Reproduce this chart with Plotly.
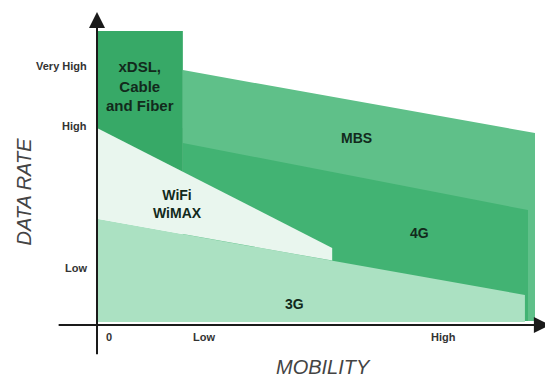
import plotly.graph_objects as go

# ---- data (mobility 0..100, data rate 0..100) ----
mbs_x = [19.6, 100.0, 100.0, 19.6]
mbs_y = [86.7, 65.3, 1.4, 1.4]

g4_x = [19.6, 98.4, 98.4, 19.6]
g4_y = [61.9, 39.1, 1.4, 1.4]

g3_x = [0.0, 97.7, 97.7, 0.0]
g3_y = [36.1, 10.2, 1.0, 1.0]

wifi_x = [0.0, 53.7, 53.7, 0.0]
wifi_y = [67.0, 26.2, 21.9, 36.1]

xdsl_x = [0.0, 19.6, 19.6, 0.0]
xdsl_y = [100.0, 100.0, 52.1, 67.0]

y_tick_labels = ["Very High", "High", "Low"]
y_tick_vals = [88.0, 67.7, 19.4]
x_tick_labels = ["0", "Low", "High"]
x_tick_vals = [1.5, 24.4, 79.2]

region_names = ["xDSL,<br>Cable<br>and Fiber", "MBS", "WiFi<br>WiMAX", "4G", "3G"]
region_label_x = [9.8, 59.3, 18.3, 73.6, 45.0]
region_label_y = [81.3, 63.6, 41.0, 31.3, 7.2]
region_label_size = [15, 14, 14, 14, 14]

regions = [
    ("MBS", mbs_x, mbs_y, "#5fc089"),
    ("4G", g4_x, g4_y, "#42b373"),
    ("3G", g3_x, g3_y, "#abe1c2"),
    ("WiFi", wifi_x, wifi_y, "#e9f6ee"),
    ("xDSL", xdsl_x, xdsl_y, "#37a967"),
]

fig = go.Figure()
for name, xs, ys, col in regions:
    fig.add_trace(go.Scatter(
        x=xs + [xs[0]], y=ys + [ys[0]], fill="toself", mode="lines",
        line=dict(width=0, color=col), fillcolor=col, name=name,
        hoverinfo="skip", showlegend=False))

FONT = "Liberation Sans, Arial, sans-serif"

# axes with arrows
fig.add_annotation(x=0, y=106.5, ax=0, ay=-10.5, xref="x", yref="y", axref="x", ayref="y",
                   text="", showarrow=True, arrowhead=2, arrowsize=1.6, arrowwidth=2,
                   arrowcolor="#1a1a1a", standoff=0)
fig.add_annotation(x=103.4, y=0, ax=-9.1, ay=0, xref="x", yref="y", axref="x", ayref="y",
                   text="", showarrow=True, arrowhead=2, arrowsize=1.6, arrowwidth=2,
                   arrowcolor="#1a1a1a", standoff=0)

for lab, yv in zip(y_tick_labels, y_tick_vals):
    fig.add_annotation(x=-1.8, y=yv, xref="x", yref="y", text=lab, showarrow=False,
                       xanchor="right", yanchor="middle",
                       font=dict(family=FONT, size=11, color="#333333", weight="bold"))
for i, (lab, xv) in enumerate(zip(x_tick_labels, x_tick_vals)):
    fig.add_annotation(x=xv, y=-4.0, xref="x", yref="y", text=lab, showarrow=False,
                       xanchor="left" if i == 0 else "center", yanchor="middle",
                       font=dict(family=FONT, size=11, color="#333333", weight="bold"))

for lab, xv, yv, sz in zip(region_names, region_label_x, region_label_y, region_label_size):
    fig.add_annotation(x=xv, y=yv, xref="x", yref="y", text=lab, showarrow=False,
                       xanchor="center", yanchor="middle",
                       font=dict(family=FONT, size=sz, color="#122a1c", weight="bold"))

fig.add_annotation(x=51.8, y=-14.3, xref="x", yref="y", text="MOBILITY", showarrow=False,
                   xanchor="center", yanchor="middle",
                   font=dict(family=FONT, size=20, color="#444444", style="italic"))
fig.add_annotation(x=-16.6, y=45.5, xref="x", yref="y", text="DATA RATE", showarrow=False,
                   textangle=-90, xanchor="center", yanchor="middle",
                   font=dict(family=FONT, size=20, color="#444444", style="italic"))

# the page body has an 8px margin, so the figure is 545x370 starting at (8, 8)
fig.update_xaxes(range=[-20.32, 104.11], visible=False, fixedrange=True)
fig.update_yaxes(range=[-18.03, 107.82], visible=False, fixedrange=True)
fig.update_layout(width=545, height=370, autosize=False,
                  margin=dict(l=0, r=0, t=0, b=0),
                  paper_bgcolor="white", plot_bgcolor="white")

fig.write_html("out.html")
